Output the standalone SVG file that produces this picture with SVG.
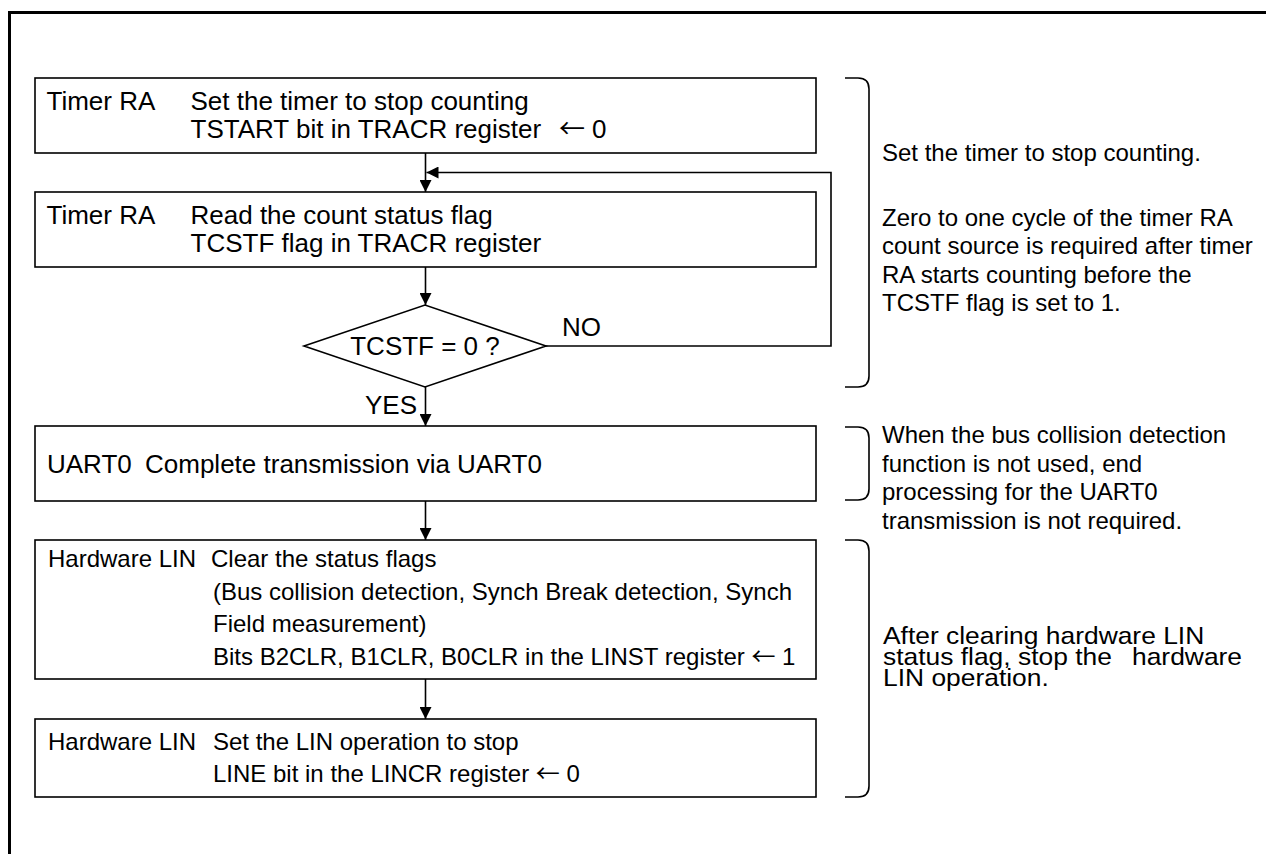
<svg xmlns="http://www.w3.org/2000/svg" width="1266" height="854" viewBox="0 0 1266 854">
<style>
  text { font-family: "Liberation Sans", Arial, "DejaVu Sans", sans-serif; fill: #000; }
  .t26 { font-size: 26px; }
  .t24 { font-size: 24px; }
  .arw { font-family: "Noto Sans CJK JP", "DejaVu Sans", sans-serif; }
  .box { fill: #fff; stroke: #000; stroke-width: 1.6; }
  .conn { fill: none; stroke: #000; stroke-width: 1.6; }
  .brace { fill: none; stroke: #000; stroke-width: 1.6; }
  .frame { fill: none; stroke: #000; stroke-width: 3; }
</style>
<defs>
  <marker id="arr" markerUnits="userSpaceOnUse" markerWidth="13" markerHeight="12" refX="12" refY="6" orient="auto">
    <path d="M0,0 L12,6 L0,12 Z" fill="#000"/>
  </marker>
</defs>
<rect width="1266" height="854" fill="#fff"/>
<g id="frame">
  <path class="frame" d="M9.5,854 V12.5 H1266"/>
</g>

<g id="n1">
  <rect class="box" x="35" y="78" width="781" height="75"/>
  <text class="t26" x="46.5" y="110">Timer RA</text>
  <text class="t26" x="190.5" y="110">Set the timer to stop counting</text>
  <text class="t26" x="190.5" y="138">TSTART bit in TRACR register<tspan class="arw" x="559">←</tspan><tspan x="592">0</tspan></text>
</g>
<g id="n2">
  <rect class="box" x="35" y="192" width="781" height="75"/>
  <text class="t26" x="46.5" y="224">Timer RA</text>
  <text class="t26" x="190.5" y="224">Read the count status flag</text>
  <text class="t26" x="190.5" y="252">TCSTF flag in TRACR register</text>
</g>
<g id="n3">
  <polygon class="box" points="304,346 425,305 546,346 425,387"/>
  <text class="t26" x="425" y="355" text-anchor="middle">TCSTF = 0 ?</text>
</g>
<g id="n4">
  <rect class="box" x="35" y="426" width="781" height="75"/>
  <text class="t26" x="47" y="473">UART0</text>
  <text class="t26" x="145" y="473">Complete transmission via UART0</text>
</g>
<g id="n5">
  <rect class="box" x="35" y="540" width="781" height="139"/>
  <text class="t24" x="48" y="567">Hardware LIN</text>
  <text class="t24" x="211" y="567">Clear the status flags</text>
  <text class="t24" x="213" y="599.5">(Bus collision detection, Synch Break detection, Synch</text>
  <text class="t24" x="213" y="632">Field measurement)</text>
  <text class="t24" x="213" y="665">Bits B2CLR, B1CLR, B0CLR in the LINST register <tspan class="arw">←</tspan> 1</text>
</g>
<g id="n6">
  <rect class="box" x="35" y="719" width="781" height="78"/>
  <text class="t24" x="48" y="750">Hardware LIN</text>
  <text class="t24" x="213" y="750">Set the LIN operation to stop</text>
  <text class="t24" x="213" y="782">LINE bit in the LINCR register <tspan class="arw">←</tspan> 0</text>
</g>

<g id="connectors">
  <path class="conn" d="M425.5,153 V192" marker-end="url(#arr)"/>
  <path class="conn" d="M425.5,267 V305" marker-end="url(#arr)"/>
  <path class="conn" d="M546,346 H831 V172.5 H426.5" marker-end="url(#arr)"/>
  <path class="conn" d="M425.5,387 V426" marker-end="url(#arr)"/>
  <path class="conn" d="M425.5,501 V540" marker-end="url(#arr)"/>
  <path class="conn" d="M425.5,679 V719" marker-end="url(#arr)"/>
  <text class="t26" x="562" y="336">NO</text>
  <text class="t26" x="417" y="414" text-anchor="end">YES</text>
</g>

<g id="note1">
  <path class="brace" d="M845,78 H858 Q869,78 869,89 V376 Q869,387 858,387 H845"/>
  <text class="t24" x="882" y="160.5">Set the timer to stop counting.</text>
  <text class="t24" x="882" y="225.5">Zero to one cycle of the timer RA</text>
  <text class="t24" x="882" y="254">count source is required after timer</text>
  <text class="t24" x="882" y="282.5">RA starts counting before the</text>
  <text class="t24" x="882" y="311">TCSTF flag is set to 1.</text>
</g>
<g id="note2">
  <path class="brace" d="M845,427 H858 Q869,427 869,438 V489 Q869,500 858,500 H845"/>
  <text class="t24" x="882" y="443">When the bus collision detection</text>
  <text class="t24" x="882" y="471.5">function is not used, end</text>
  <text class="t24" x="882" y="500">processing for the UART0</text>
  <text class="t24" x="882" y="528.5">transmission is not required.</text>
</g>
<g id="note3">
  <path class="brace" d="M845,540 H858 Q869,540 869,551 V786 Q869,797 858,797 H845"/>
  <g transform="translate(883 0) scale(1.1 1)">
    <text class="t24" x="0" y="644">After clearing hardware LIN</text>
    <text class="t24" x="0" y="665" style="white-space:pre">status flag, stop the  <tspan dx="5">hardware</tspan></text>
    <text class="t24" x="0" y="686">LIN operation.</text>
  </g>
</g>
</svg>
